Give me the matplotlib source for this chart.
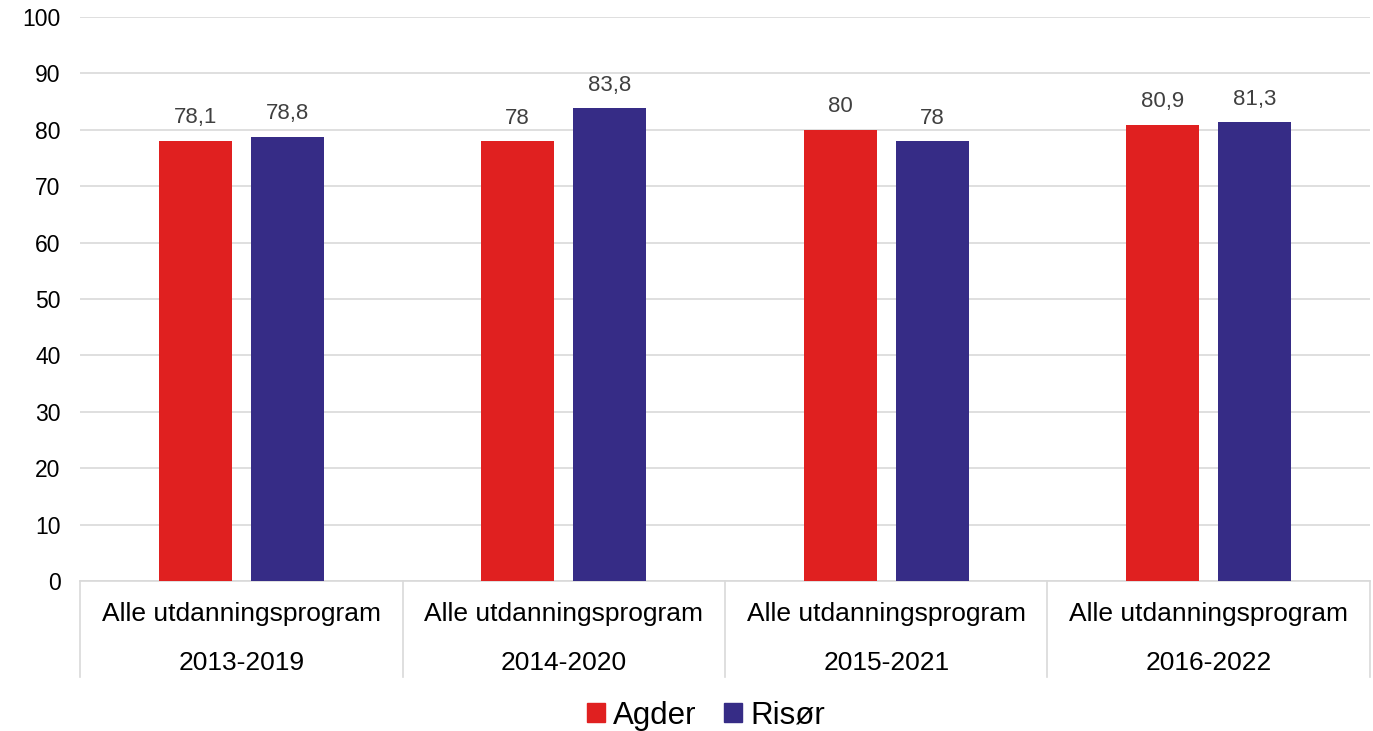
import matplotlib.pyplot as plt
import numpy as np
from matplotlib.patches import Patch
import matplotlib.transforms as mtransforms

plt.rcParams['font.family'] = ['Liberation Sans', 'DejaVu Sans']

# data
periods = ['2013-2019', '2014-2020', '2015-2021', '2016-2022']
program = 'Alle utdanningsprogram'
agder = [78.1, 78, 80, 80.9]
risor = [78.8, 83.8, 78, 81.3]
series_names = ['Agder', 'Risør']

red = '#E02020'
blue = '#362C86'
grid_col = '#D9D9D9'

fig = plt.figure(figsize=(13.73, 7.31), dpi=100)
ax = fig.add_axes([0.0583, 0.2052, 0.9395, 0.7715])

x = np.arange(len(periods))
w = 0.227
off = 0.143
ax.bar(x - off, agder, w, color=red, zorder=3)
ax.bar(x + off, risor, w, color=blue, zorder=3)

def fmt(v):
    s = ('%.1f' % v).rstrip('0').rstrip('.')
    return s.replace('.', ',')

for xi, a, r in zip(x, agder, risor):
    ax.text(xi - off, a + 2.2, fmt(a), ha='center', va='bottom', fontsize=16, color='#404040')
    ax.text(xi + off, r + 2.2, fmt(r), ha='center', va='bottom', fontsize=16, color='#404040')

ax.set_xlim(-0.5, len(periods) - 0.5)
ax.set_ylim(0, 100)
ax.set_yticks(range(0, 101, 10))
ax.tick_params(axis='y', length=0, labelsize=16.5, pad=14)
ax.set_xticks([])
ax.yaxis.grid(True, color=grid_col, linewidth=1.2, zorder=0)
for s in ['top', 'right', 'left']:
    ax.spines[s].set_visible(False)
ax.spines['bottom'].set_color(grid_col)
ax.spines['bottom'].set_linewidth(1.2)

# multilevel category axis
trans = mtransforms.blended_transform_factory(ax.transData, ax.transAxes)
for xi, p in zip(x, periods):
    ax.text(xi, -0.058, program, transform=trans, ha='center', va='center', fontsize=19)
    ax.text(xi, -0.145, p, transform=trans, ha='center', va='center', fontsize=19)
for b in np.arange(len(periods) + 1) - 0.5:
    ax.plot([b, b], [0, -0.17], transform=trans, color=grid_col, linewidth=1.2, clip_on=False)

handles = [Patch(color=red), Patch(color=blue)]
fig.legend(handles, series_names, loc='center', bbox_to_anchor=(0.514, 0.021), ncol=2,
           frameon=False, fontsize=22.5, handlelength=0.58, handleheight=0.58,
           handletextpad=0.25, columnspacing=0.9, borderpad=0)

fig.savefig('out.png', dpi=100)
